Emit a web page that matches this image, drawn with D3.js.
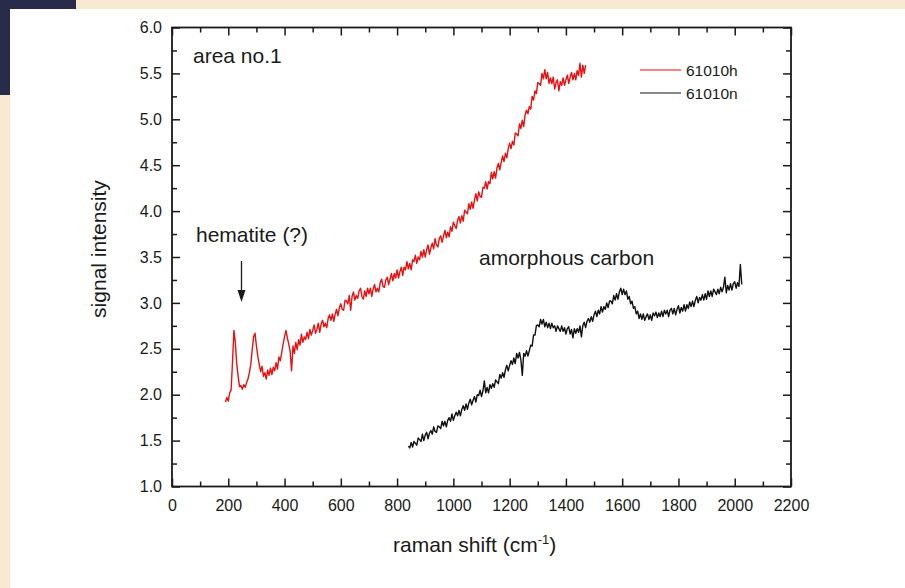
<!DOCTYPE html>
<html>
<head>
<meta charset="utf-8">
<script src="https://cdn.jsdelivr.net/npm/d3@7/dist/d3.min.js"></script>
<style>
  html, body { margin: 0; padding: 0; background: #f8ead0; }
  svg { display: block; }
  text { font-family: "Liberation Sans", Arial, sans-serif; fill: #1a1a1a; }
</style>
</head>
<body>
<svg id="chart" width="905" height="588"></svg>
<script>
// ---------- data ----------
const seriesNames = ["61010h", "61010n"];
const xTicksMajor = [0, 200, 400, 600, 800, 1000, 1200, 1400, 1600, 1800, 2000, 2200];
const yTicksMajor = [1.0, 1.5, 2.0, 2.5, 3.0, 3.5, 4.0, 4.5, 5.0, 5.5, 6.0];

// 61010h: raman shift 190 .. 1470 cm-1, step 5
const hStart = 190, hStep = 5;
const hValues = [
  1.92,1.97,1.93,2.02,2.05,2.35,2.70,2.57,2.34,2.20,2.09,2.10,2.06,2.11,2.08,2.13,2.17,2.24,2.33,2.49, // 190-285
  2.63,2.67,2.53,2.42,2.33,2.25,2.31,2.20,2.24,2.17,2.27,2.21,2.29,2.22,2.30,2.26,2.35,2.28,2.41,2.37, // 290-385
  2.46,2.55,2.63,2.70,2.62,2.55,2.47,2.26,2.53,2.45,2.57,2.49,2.60,2.54,2.66,2.57,2.63,2.60,2.68,2.61, // 390-485
  2.71,2.65,2.70,2.76,2.67,2.71,2.78,2.68,2.77,2.81,2.74,2.78,2.73,2.83,2.87,2.81,2.88,2.80,2.88,2.93, // 490-585
  2.86,2.95,2.99,2.93,2.92,3.03,3.02,2.99,3.08,2.92,3.07,3.12,3.03,3.08,3.05,3.13,3.16,3.07,3.04,3.13, // 590-685
  3.07,3.16,3.10,3.16,3.07,3.15,3.20,3.12,3.16,3.12,3.22,3.26,3.18,3.17,3.25,3.28,3.20,3.26,3.32,3.24, // 690-785
  3.32,3.27,3.36,3.27,3.34,3.39,3.30,3.39,3.36,3.45,3.37,3.43,3.36,3.47,3.45,3.52,3.43,3.50,3.47,3.56, // 790-885
  3.50,3.58,3.50,3.58,3.63,3.53,3.60,3.65,3.59,3.70,3.63,3.61,3.70,3.73,3.66,3.73,3.79,3.71,3.77,3.72, // 890-985
  3.83,3.78,3.88,3.84,3.81,3.90,3.94,3.87,3.95,3.89,4.01,3.99,3.97,4.08,4.02,4.10,4.03,4.12,4.19,4.11, // 990-1085
  4.21,4.16,4.15,4.26,4.25,4.32,4.24,4.32,4.30,4.42,4.35,4.43,4.36,4.47,4.52,4.45,4.53,4.60,4.54,4.63, // 1090-1185
  4.58,4.68,4.74,4.68,4.76,4.72,4.85,4.84,4.82,4.95,4.90,4.99,4.92,5.05,5.10,5.06,5.14,5.11,5.25,5.21, // 1190-1285
  5.31,5.28,5.40,5.39,5.37,5.50,5.44,5.54,5.44,5.51,5.39,5.45,5.39,5.46,5.33,5.40,5.43,5.31,5.41,5.37, // 1290-1385
  5.45,5.37,5.43,5.48,5.39,5.46,5.51,5.43,5.50,5.43,5.53,5.48,5.61,5.46,5.59,5.50,5.59              // 1390-1470
];

// 61010n: raman shift 840 .. 2025 cm-1, step 5
const nStart = 840, nStep = 5;
const nValues = [
  1.44,1.42,1.48,1.43,1.49,1.47,1.45,1.53,1.51,1.49,1.57,1.50,1.56,1.59,1.52,1.58,1.61,1.57,1.65,1.60, // 840-935
  1.59,1.66,1.65,1.63,1.71,1.66,1.71,1.65,1.72,1.75,1.71,1.79,1.72,1.77,1.81,1.77,1.83,1.77,1.84,1.88, // 940-1035
  1.83,1.90,1.84,1.91,1.95,1.89,1.94,1.98,1.92,2.00,1.99,2.05,1.98,2.04,2.15,2.02,2.08,2.02,2.11,2.07, // 1040-1135
  2.12,2.08,2.16,2.14,2.12,2.22,2.18,2.24,2.19,2.27,2.32,2.26,2.32,2.37,2.33,2.40,2.34,2.45,2.40,2.46, // 1140-1235
  2.38,2.21,2.45,2.42,2.48,2.42,2.48,2.54,2.53,2.65,2.65,2.75,2.76,2.74,2.82,2.77,2.82,2.74,2.79,2.73, // 1240-1335
  2.78,2.72,2.78,2.73,2.75,2.69,2.75,2.72,2.69,2.75,2.69,2.73,2.66,2.72,2.74,2.66,2.71,2.62,2.72,2.67, // 1340-1435
  2.72,2.68,2.75,2.63,2.75,2.79,2.73,2.80,2.83,2.79,2.85,2.80,2.87,2.91,2.85,2.92,2.88,2.96,2.90,2.96, // 1440-1535
  2.93,3.00,2.95,3.02,3.02,2.99,3.08,3.03,3.10,3.04,3.12,3.16,3.09,3.15,3.09,3.13,3.04,3.07,2.99,3.02, // 1540-1635
  2.94,2.96,2.88,2.91,2.83,2.88,2.82,2.88,2.81,2.85,2.88,2.82,2.87,2.81,2.89,2.86,2.90,2.84,2.89,2.85, // 1640-1735
  2.91,2.85,2.92,2.88,2.92,2.85,2.92,2.94,2.88,2.94,2.87,2.93,2.97,2.89,2.95,2.91,2.98,2.91,2.98,2.94, // 1740-1835
  3.01,2.96,3.02,2.96,3.03,3.07,3.00,3.06,3.03,3.09,3.03,3.10,3.04,3.13,3.07,3.13,3.07,3.15,3.12,3.09, // 1840-1935
  3.15,3.10,3.17,3.12,3.17,3.28,3.11,3.19,3.14,3.21,3.14,3.21,3.23,3.16,3.22,3.18,3.42,3.20            // 1940-2025
];

// ---------- layout ----------
const svg = d3.select("#chart");
const W = 905, H = 588;
const plot = { left: 172, right: 791, top: 27.5, bottom: 486.5 };

// background decor
svg.append("rect").attr("x", 0).attr("y", 0).attr("width", W).attr("height", H).attr("fill", "#f8ead0");
svg.append("rect").attr("x", 0).attr("y", 0).attr("width", 76).attr("height", 95).attr("fill", "#282c4a");
svg.append("rect").attr("x", 10).attr("y", 9).attr("width", W - 10).attr("height", H - 9).attr("fill", "#ffffff");

const x = d3.scaleLinear().domain([0, 2200]).range([plot.left, plot.right]);
const y = d3.scaleLinear().domain([1, 6]).range([plot.bottom, plot.top]);

const hData = hValues.map((v, i) => [hStart + i * hStep, v]);
const nData = nValues.map((v, i) => [nStart + i * nStep, v]);

const line = d3.line().x(d => x(d[0])).y(d => y(d[1]));

svg.append("path").datum(hData).attr("d", line)
  .attr("fill", "none").attr("stroke", "#e81010").attr("stroke-width", 1.4).attr("stroke-linejoin", "round");
svg.append("path").datum(nData).attr("d", line)
  .attr("fill", "none").attr("stroke", "#111111").attr("stroke-width", 1.4).attr("stroke-linejoin", "round");

// ---------- axes ----------
const xMinor = d3.range(100, 2200, 200);
const yMinor = d3.range(1.25, 6, 0.5);
const MAJ = 8, MIN = 5;

function styleAxis(g) {
  g.selectAll(".domain").remove();
  g.selectAll(".tick line").attr("stroke", "#1a1a1a").attr("stroke-width", 1.5);
  g.selectAll(".tick text").style("font-size", "16px").style("font-family", "'Liberation Sans', Arial, sans-serif").attr("fill", "#1a1a1a");
}

// bottom
svg.append("g").attr("transform", `translate(0,${plot.bottom})`)
  .call(d3.axisBottom(x).tickValues(xTicksMajor).tickFormat(d3.format("d")).tickSizeInner(-MAJ).tickSizeOuter(0).tickPadding(13)).call(styleAxis);
svg.append("g").attr("transform", `translate(0,${plot.bottom})`)
  .call(d3.axisBottom(x).tickValues(xMinor).tickFormat("").tickSizeInner(-MIN).tickSizeOuter(0)).call(styleAxis);
// top
svg.append("g").attr("transform", `translate(0,${plot.top})`)
  .call(d3.axisTop(x).tickValues(xTicksMajor).tickFormat("").tickSizeInner(-MAJ).tickSizeOuter(0)).call(styleAxis);
svg.append("g").attr("transform", `translate(0,${plot.top})`)
  .call(d3.axisTop(x).tickValues(xMinor).tickFormat("").tickSizeInner(-MIN).tickSizeOuter(0)).call(styleAxis);
// left
svg.append("g").attr("transform", `translate(${plot.left},0)`)
  .call(d3.axisLeft(y).tickValues(yTicksMajor).tickFormat(d3.format(".1f")).tickSizeInner(-MAJ).tickSizeOuter(0).tickPadding(10)).call(styleAxis);
svg.append("g").attr("transform", `translate(${plot.left},0)`)
  .call(d3.axisLeft(y).tickValues(yMinor).tickFormat("").tickSizeInner(-MIN).tickSizeOuter(0)).call(styleAxis);
// right
svg.append("g").attr("transform", `translate(${plot.right},0)`)
  .call(d3.axisRight(y).tickValues(yTicksMajor).tickFormat("").tickSizeInner(-MAJ).tickSizeOuter(0)).call(styleAxis);
svg.append("g").attr("transform", `translate(${plot.right},0)`)
  .call(d3.axisRight(y).tickValues(yMinor).tickFormat("").tickSizeInner(-MIN).tickSizeOuter(0)).call(styleAxis);

// frame
svg.append("rect").attr("x", plot.left).attr("y", plot.top)
  .attr("width", plot.right - plot.left).attr("height", plot.bottom - plot.top)
  .attr("fill", "none").attr("stroke", "#1a1a1a").attr("stroke-width", 1.8);

// ---------- titles ----------
const xt = svg.append("text").attr("x", 393).attr("y", 552).style("font-size", "21px");
xt.append("tspan").text("raman shift (cm");
xt.append("tspan").attr("dy", -8).style("font-size", "13px").text("-1");
xt.append("tspan").attr("dy", 8).text(")");

svg.append("text").attr("transform", "translate(106,249) rotate(-90)")
  .attr("text-anchor", "middle").style("font-size", "21px").text("signal intensity");

// ---------- annotations ----------
svg.append("text").attr("x", 193).attr("y", 63).style("font-size", "21px").text("area no.1");
svg.append("text").attr("x", 196).attr("y", 242).style("font-size", "21px").text("hematite (?)");
svg.append("text").attr("x", 479).attr("y", 265).style("font-size", "21px").text("amorphous carbon");

// arrow
svg.append("line").attr("x1", 241.5).attr("x2", 241.5).attr("y1", 261).attr("y2", 292)
  .attr("stroke", "#1a1a1a").attr("stroke-width", 1.3);
svg.append("path").attr("d", "M237.5,290 L245.5,290 L241.5,302 Z").attr("fill", "#1a1a1a");

// ---------- legend ----------
const legend = [
  { name: seriesNames[0], color: "#e81010", y: 70 },
  { name: seriesNames[1], color: "#111111", y: 93 }
];
legend.forEach(l => {
  svg.append("line").attr("x1", 640).attr("x2", 681).attr("y1", l.y).attr("y2", l.y)
    .attr("stroke", l.color).attr("stroke-width", 1);
  svg.append("text").attr("x", 686).attr("y", l.y + 6).style("font-size", "15.5px").text(l.name);
});
</script>
</body>
</html>
